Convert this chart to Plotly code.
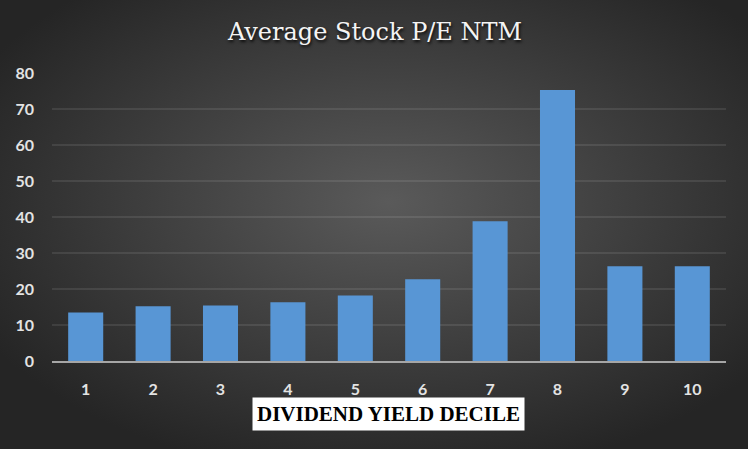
import base64
import plotly.graph_objects as go

# Dados do gráfico
deciles = ["1", "2", "3", "4", "5", "6", "7", "8", "9", "10"]
pe_ntm = [13.5, 15.2, 15.4, 16.3, 18.2, 22.7, 38.8, 75.3, 26.3, 26.3]
y_ticks = [0, 10, 20, 30, 40, 50, 60, 70, 80]

W, H = 748, 449
M = {"l": 52, "r": 22, "t": 73, "b": 88}
pw = W - M["l"] - M["r"]
ph = H - M["t"] - M["b"]

# Fundo com gradiente radial (estilo Excel) via SVG embutido
svg = f"""<svg xmlns='http://www.w3.org/2000/svg' width='{W}' height='{H}' preserveAspectRatio='none'>
<defs><radialGradient id='g' cx='52%' cy='45%' r='62%'>
<stop offset='0%' stop-color='#5a5a5a'/><stop offset='100%' stop-color='#252525'/>
</radialGradient></defs>
<rect width='{W}' height='{H}' fill='url(#g)'/></svg>"""
bg_uri = "data:image/svg+xml;base64," + base64.b64encode(svg.encode()).decode()

fig = go.Figure()
fig.add_trace(go.Bar(
    x=deciles,
    y=pe_ntm,
    marker=dict(color="#5896d5", line=dict(width=0)),
    hoverinfo="x+y",
))

fig.add_layout_image(dict(
    source=bg_uri,
    xref="paper", yref="paper",
    x=-M["l"] / pw, y=1 + M["t"] / ph,
    sizex=W / pw, sizey=H / ph,
    xanchor="left", yanchor="top",
    sizing="stretch", layer="below",
))

# Título do eixo X numa caixa branca
fig.add_annotation(
    text="<b>DIVIDEND YIELD DECILE</b>",
    xref="paper", yref="paper",
    x=(388.5 - M["l"]) / pw, y=-(414 - M["t"] - ph) / ph,
    xanchor="center", yanchor="middle",
    showarrow=False,
    font=dict(family="Liberation Serif", size=21, color="#000000"),
    bgcolor="#ffffff",
    borderpad=4,
)

tick_font = dict(family="Lato", size=16, color="#e3e3e3", weight="bold")

fig.update_layout(
    width=W, height=H,
    margin=M,
    paper_bgcolor="#262626",
    plot_bgcolor="rgba(0,0,0,0)",
    bargap=0.48,
    showlegend=False,
    title=dict(
        text="Average Stock P/E NTM",
        x=(375 - M["l"]) / pw, xref="paper", xanchor="center",
        y=1 - 32 / H, yanchor="middle",
        font=dict(family="DejaVu Serif", size=24, color="#f4f4f4",
                  shadow="1px 2px 3px rgba(0,0,0,0.85)"),
    ),
    xaxis=dict(
        showgrid=False,
        showline=True, linecolor="#a6a6a6", linewidth=2,
        ticks="",
        ticklabelstandoff=13,
        tickfont=tick_font,
    ),
    yaxis=dict(
        range=[0, 80],
        tickvals=y_ticks,
        showgrid=True, gridcolor="rgba(255,255,255,0.09)", gridwidth=2,
        zeroline=False,
        showline=False,
        ticks="",
        ticklabelstandoff=17,
        tickfont=tick_font,
    ),
)

fig.write_html("out.html", config={"displayModeBar": False},
               post_script="document.body.style.margin='0';")
